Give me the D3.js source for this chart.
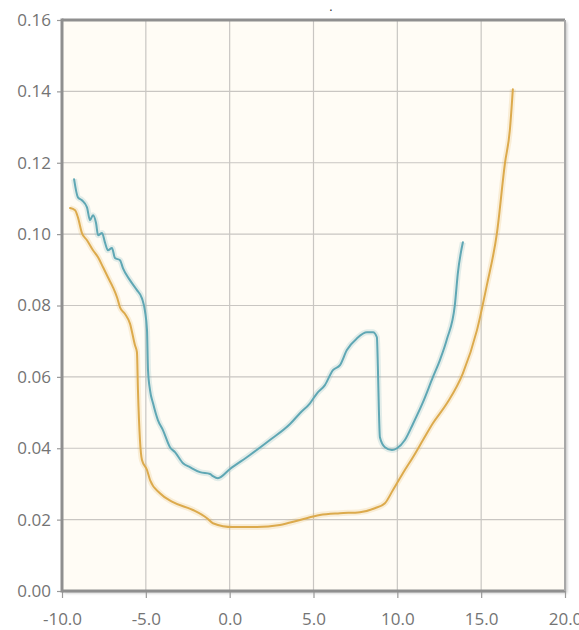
<!DOCTYPE html>
<html>
<head>
<meta charset="utf-8">
<script src="https://cdn.jsdelivr.net/npm/d3@7"></script>
<style>
  html, body { margin: 0; padding: 0; background: #ffffff; }
  svg { display: block; }
  .tick text { font-family: "Open Sans", "DejaVu Sans", sans-serif; font-size: 17px; fill: #747474; }
</style>
</head>
<body>
<svg id="chart" width="579" height="630"></svg>
<script>
// Series A (teal) sample points: x position, y value
const tealX = [-9.28, -9.05, -8.81, -8.51, -8.33, -8.15, -7.97, -7.85, -7.61, -7.44, -7.26, -7.02, -6.84, -6.54, -6.36, -5.95, -5.53, -5.23, -5.05, -4.93, -4.87, -4.75, -4.57, -4.28, -3.98, -3.56, -3.26, -2.78, -2.37, -1.77, -1.17, -1.00, -0.70, 0.02, 1.21, 2.40, 3.60, 4.19, 4.79, 5.21, 5.68, 6.16, 6.58, 6.99, 7.59, 8.19, 8.55, 8.78, 8.84, 8.90, 8.96, 9.26, 9.68, 9.98, 10.45, 10.93, 11.53, 12.12, 12.54, 12.96, 13.43, 13.61, 13.91];
const tealY = [0.1154, 0.1103, 0.1095, 0.1075, 0.1039, 0.1053, 0.1031, 0.0997, 0.1003, 0.0977, 0.0955, 0.0961, 0.0933, 0.0927, 0.0904, 0.0871, 0.0843, 0.0820, 0.0784, 0.0731, 0.0619, 0.0563, 0.0526, 0.0479, 0.0451, 0.0403, 0.0389, 0.0358, 0.0347, 0.0333, 0.0328, 0.0322, 0.0316, 0.0342, 0.0381, 0.0423, 0.0468, 0.0498, 0.0526, 0.0554, 0.0577, 0.0619, 0.0633, 0.0675, 0.0708, 0.0725, 0.0725, 0.0711, 0.0627, 0.0507, 0.0431, 0.0403, 0.0395, 0.0400, 0.0423, 0.0468, 0.0529, 0.0599, 0.0647, 0.0706, 0.0801, 0.0891, 0.0977];

// Series B (orange) sample points
const orangeX = [-9.52, -9.22, -9.05, -8.81, -8.51, -8.15, -7.85, -7.55, -7.26, -6.96, -6.72, -6.54, -6.24, -5.95, -5.65, -5.53, -5.47, -5.35, -5.23, -4.93, -4.75, -4.16, -3.38, -2.19, -1.35, -1.00, 0.20, 1.63, 3.00, 4.19, 5.38, 6.58, 7.77, 8.66, 9.26, 9.74, 10.33, 10.93, 11.53, 12.12, 12.96, 13.91, 14.75, 15.34, 15.94, 16.42, 16.71, 16.89];
const orangeY = [0.1073, 0.1067, 0.1047, 0.1003, 0.0983, 0.0955, 0.0935, 0.0907, 0.0879, 0.0851, 0.0823, 0.0795, 0.0776, 0.0750, 0.0689, 0.0669, 0.0563, 0.0423, 0.0367, 0.0339, 0.0311, 0.0274, 0.0249, 0.0227, 0.0204, 0.0190, 0.0179, 0.0179, 0.0185, 0.0199, 0.0213, 0.0218, 0.0221, 0.0232, 0.0246, 0.0283, 0.0330, 0.0375, 0.0423, 0.0470, 0.0526, 0.0610, 0.0731, 0.0857, 0.1003, 0.1199, 0.1291, 0.1406];

// Axis ticks
const xTicks = [-10, -5, 0, 5, 10, 15, 20];
const yTicks = [0, 0.02, 0.04, 0.06, 0.08, 0.10, 0.12, 0.14, 0.16];

const svg = d3.select("#chart");
const margin = { left: 62, top: 20, right: 14, bottom: 39 };
const W = 579, H = 630;
const iw = W - margin.left - margin.right;
const ih = H - margin.top - margin.bottom;

const x = d3.scaleLinear().domain([-10, 20]).range([margin.left, margin.left + iw]);
const y = d3.scaleLinear().domain([0, 0.16]).range([margin.top + ih, margin.top]);

// drop shadow for the frame
const defs = svg.append("defs");
const f = defs.append("filter").attr("id", "shadow").attr("x", "-5%").attr("y", "-5%").attr("width", "110%").attr("height", "110%");
f.append("feDropShadow").attr("dx", 2).attr("dy", 2).attr("stdDeviation", 1.5).attr("flood-color", "#000").attr("flood-opacity", 0.25);

// plot background
svg.append("rect")
  .attr("x", x(-10)).attr("y", y(0.16))
  .attr("width", x(20) - x(-10)).attr("height", y(0) - y(0.16))
  .attr("fill", "#fffcf5")
  .attr("filter", "url(#shadow)");

// grid
svg.append("g").selectAll("line").data(xTicks.slice(1, -1)).join("line")
  .attr("x1", d => x(d)).attr("x2", d => x(d))
  .attr("y1", y(0.16)).attr("y2", y(0))
  .attr("stroke", "#c9c6c2").attr("stroke-width", 1.2);
svg.append("g").selectAll("line").data(yTicks.slice(1, -1)).join("line")
  .attr("x1", x(-10)).attr("x2", x(20))
  .attr("y1", d => y(d)).attr("y2", d => y(d))
  .attr("stroke", "#c9c6c2").attr("stroke-width", 1.2);

// axes (plain hyphen for negative labels)
const xAxis = svg.append("g")
  .attr("transform", `translate(0,${y(0)})`)
  .call(d3.axisBottom(x).tickValues(xTicks).tickFormat(d => d.toFixed(1)).tickSize(7).tickPadding(15));
const yAxis = svg.append("g")
  .attr("transform", `translate(${x(-10)},0)`)
  .call(d3.axisLeft(y).tickValues(yTicks).tickFormat(d => d.toFixed(2)).tickSize(5).tickPadding(6));
[xAxis, yAxis].forEach(g => {
  g.select(".domain").remove();
  g.selectAll(".tick line").attr("stroke", "#9a9a9a").attr("stroke-width", 1.2);
});

// frame
svg.append("line").attr("x1", x(-10)).attr("x2", x(20)).attr("y1", y(0.16)).attr("y2", y(0.16))
  .attr("stroke", "#8f8f8f").attr("stroke-width", 3);
svg.append("line").attr("x1", x(-10)).attr("x2", x(-10)).attr("y1", y(0.16) - 1.5).attr("y2", y(0) + 1.5)
  .attr("stroke", "#8f8f8f").attr("stroke-width", 3);
svg.append("line").attr("x1", x(-10)).attr("x2", x(20)).attr("y1", y(0)).attr("y2", y(0))
  .attr("stroke", "#8f8f8f").attr("stroke-width", 3);
svg.append("line").attr("x1", x(20)).attr("x2", x(20)).attr("y1", y(0.16)).attr("y2", y(0))
  .attr("stroke", "#a8a8a8").attr("stroke-width", 2);

// series
const line = d3.line().x(d => x(d[0])).y(d => y(d[1])).curve(d3.curveMonotoneX);
const series = [
  { xs: orangeX, ys: orangeY, color: "#dcaa4c" },
  { xs: tealX, ys: tealY, color: "#5fa7b4" }
];
series.forEach(s => {
  const pts = s.xs.map((v, i) => [v, s.ys[i]]);
  svg.append("path").datum(pts)
    .attr("d", line).attr("fill", "none")
    .attr("stroke", s.color).attr("stroke-opacity", 0.18).attr("stroke-width", 6)
    .attr("stroke-linejoin", "round");
  svg.append("path").datum(pts)
    .attr("d", line).attr("fill", "none")
    .attr("stroke", s.color).attr("stroke-width", 2)
    .attr("stroke-linejoin", "round").attr("stroke-linecap", "round");
});

// small title mark
svg.append("text").attr("x", 331).attr("y", 11).attr("text-anchor", "middle")
  .attr("font-family", "DejaVu Sans, sans-serif").attr("font-size", 12).attr("fill", "#333").text(".");
</script>
</body>
</html>
